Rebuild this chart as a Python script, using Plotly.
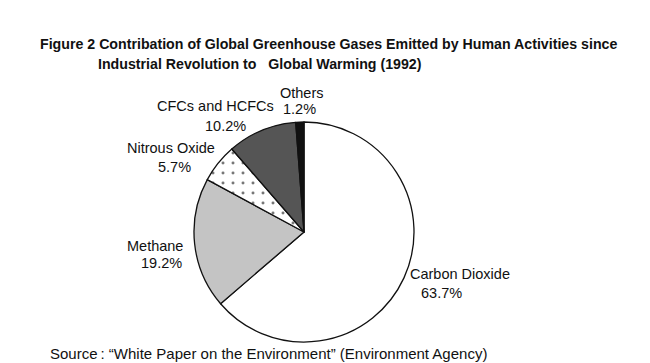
import plotly.graph_objects as go

categories = ["Carbon Dioxide", "Methane", "Nitrous Oxide", "CFCs and HCFCs", "Others"]
values = [63.7, 19.2, 5.7, 10.2, 1.2]
value_labels = ["63.7%", "19.2%", "5.7%", "10.2%", "1.2%"]
colors = ["#ffffff", "#c4c4c4", "#ffffff", "#555555", "#111111"]
patterns = ["", "", ".", "", ""]

W, H = 650, 363
OFF = 8  # page body margin
cx, cy, r = 304 - OFF, 232 - OFF, 110

def px(x):
    return (x - OFF) / W

def py(y):
    return 1 - (y - OFF) / H

fig = go.Figure(go.Pie(
    labels=categories, values=values, sort=False, direction="clockwise", rotation=0,
    textinfo="none", hoverinfo="label+percent",
    marker=dict(colors=colors, line=dict(color="#111111", width=1.3),
                pattern=dict(shape=patterns, fgcolor="#777777", size=10, solidity=0.07)),
    domain=dict(x=[(cx - r) / W, (cx + r) / W], y=[(H - cy - r) / H, (H - cy + r) / H]),
    showlegend=False,
))

lab_font = dict(family="Liberation Sans, Arial, sans-serif", size=14.5, color="#111111")
# (category index, name centre x, name y, value centre x, value y)
label_pos = [
    (0, 460, 274, 441, 293),
    (1, 155, 246, 161, 263),
    (2, 171, 148, 174, 167),
    (3, 215, 106, 225, 126),
    (4, 302, 93, 299, 109),
]
for i, x1, y1, x2, y2 in label_pos:
    fig.add_annotation(x=px(x1), y=py(y1), xref="paper", yref="paper", text=categories[i],
                       showarrow=False, xanchor="center", yanchor="middle", font=lab_font)
    fig.add_annotation(x=px(x2), y=py(y2), xref="paper", yref="paper",
                       text=value_labels[i], showarrow=False, xanchor="center", yanchor="middle",
                       font=lab_font)

title_font = dict(family="Liberation Sans, Arial, sans-serif", size=14.2, color="#111111")
fig.add_annotation(x=px(328), y=py(44), xref="paper", yref="paper",
                   text="<b>Figure 2 Contribation of Global Greenhouse Gases Emitted by Human Activities since</b>",
                   showarrow=False, xanchor="center", yanchor="middle", font=title_font)
fig.add_annotation(x=px(96), y=py(64), xref="paper", yref="paper",
                   text="<b>Industrial Revolution to   Global Warming (1992)</b>",
                   showarrow=False, xanchor="left", yanchor="middle", font=title_font)
fig.add_annotation(x=px(48), y=py(353), xref="paper", yref="paper",
                   text="Source\u2009: \u201cWhite Paper on the Environment\u201d (Environment Agency)",
                   showarrow=False, xanchor="left", yanchor="middle",
                   font=dict(family="Liberation Sans, Arial, sans-serif", size=15, color="#111111"))

fig.update_layout(width=W, height=H, margin=dict(l=0, r=0, t=0, b=0),
                  paper_bgcolor="white", plot_bgcolor="white")
fig.write_html("out.html")
